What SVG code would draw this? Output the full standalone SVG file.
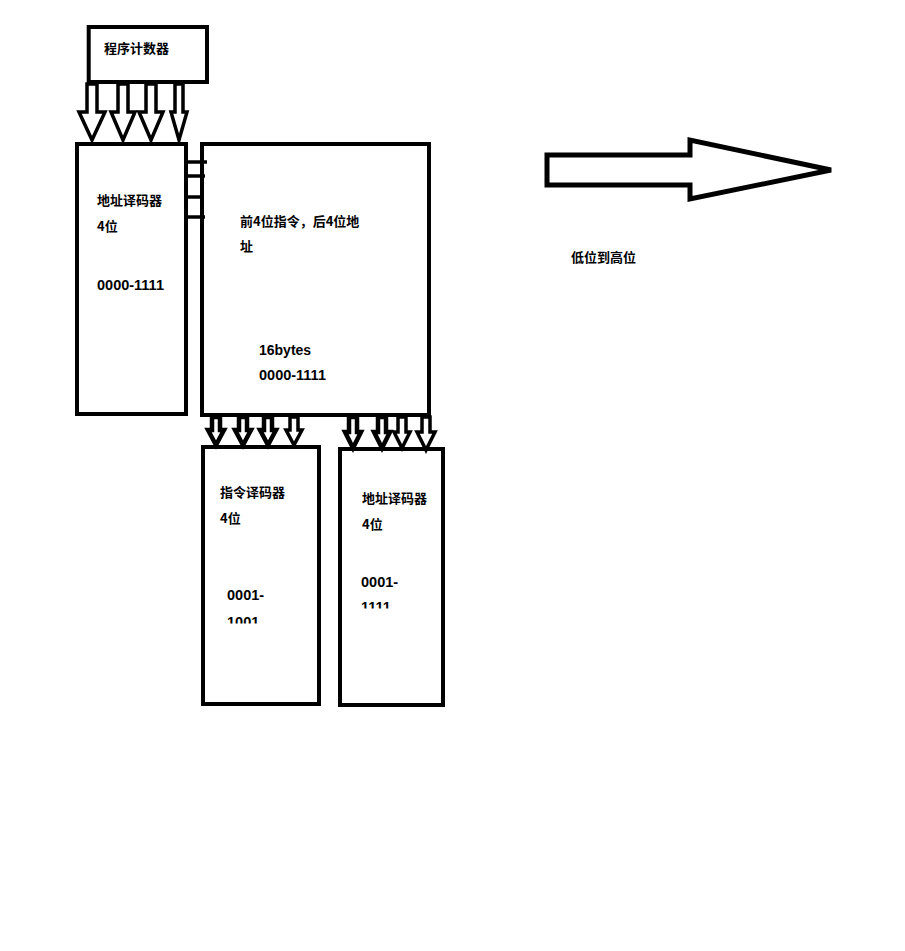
<svg xmlns="http://www.w3.org/2000/svg" width="905" height="951" viewBox="0 0 905 951">
<style>
.box{fill:#fff;stroke:#000;stroke-width:4}
.arr{fill:#fff;stroke:#000;stroke-width:3.5;stroke-linejoin:miter}
.sarr{fill:#fff;stroke:#000;stroke-width:4.5;stroke-linejoin:miter}
.tick{stroke:#000;stroke-width:3.5}
text{font-family:"Noto Sans CJK SC","Liberation Sans",sans-serif;font-weight:bold;font-size:13px;fill:#000}
.num{font-family:"Liberation Sans","Noto Sans CJK SC",sans-serif;font-size:14.5px}
.lat{font-family:"Liberation Sans","Noto Sans CJK SC",sans-serif;font-size:14px}
</style>
<defs>
<clipPath id="c1"><rect x="200" y="440" width="130" height="183.5"/></clipPath>
<clipPath id="c2"><rect x="335" y="440" width="120" height="168.5"/></clipPath>
</defs>
<rect width="905" height="951" fill="#fff"/>
<g id="pc">
<rect class="box" x="88.7" y="27" width="118.3" height="55"/>
<text x="104" y="53">程序计数器</text>
</g>
<g id="addr-decoder-1">
<rect class="box" x="77" y="144" width="109" height="270"/>
<text x="97" y="205">地址译码器</text>
<text x="97" y="231">4位</text>
<text class="num" x="97" y="290">0000-1111</text>
</g>
<g id="memory">
<rect class="box" x="202" y="144" width="227" height="271"/>
<text x="240" y="226">前4位指令，后4位地</text>
<text x="240" y="251">址</text>
<text class="lat" x="259" y="355">16bytes</text>
<text class="num" x="259" y="380">0000-1111</text>
</g>
<g id="instr-decoder">
<rect class="box" x="203" y="447" width="116" height="257"/>
<text x="220" y="497">指令译码器</text>
<text x="220" y="523">4位</text>
<g clip-path="url(#c1)">
<text class="num" x="227" y="600">0001-</text>
<text class="num" x="227" y="627">1001</text>
</g>
</g>
<g id="addr-decoder-2">
<rect class="box" x="340" y="449" width="103" height="256"/>
<text x="362" y="503">地址译码器</text>
<text x="362" y="529">4位</text>
<g clip-path="url(#c2)">
<text class="num" x="361" y="587">0001-</text>
<text class="num" x="361" y="612">1111</text>
</g>
</g>
<g id="direction">
<polygon points="547,155 690,155 690,140 831,170 690,199 690,185 547,185" fill="#fff" stroke="#000" stroke-width="5" stroke-linejoin="miter"/>
<text x="571" y="262">低位到高位</text>
</g>
<g id="connectors">
<polygon class="arr" points="87,84 87,112 79,112 92,140 105,112 97,112 97,84"/>
<polygon class="arr" points="118,84 118,112 111,112 123,140 135,112 128,112 128,84"/>
<polygon class="arr" points="146,84 146,112 139,112 151,140 163,112 156,112 156,84"/>
<polygon class="arr" points="175,84 175,112 171,112 179,140 187,112 183,112 183,84"/>
<line class="tick" x1="186" y1="162" x2="207" y2="162"/>
<line class="tick" x1="186" y1="176" x2="205" y2="176"/>
<line class="tick" x1="186" y1="197" x2="204" y2="197"/>
<line class="tick" x1="186" y1="217" x2="205" y2="217"/>
<polygon class="sarr" points="212,417 212,430 208,430 216,445 224,430 220,430 220,417"/>
<polygon class="sarr" points="239,417 239,430 235,430 243,445 251,430 247,430 247,417"/>
<polygon class="sarr" points="264,417 264,430 260,430 268,445 276,430 272,430 272,417"/>
<polygon class="arr" points="290,417 290,430 286,430 294,445 302,430 298,430 298,417"/>
<polygon class="sarr" points="349,417 349,432 345,432 353,448 361,432 357,432 357,417"/>
<polygon class="sarr" points="378,417 378,432 374,432 382,448 390,432 386,432 386,417"/>
<polygon class="arr" points="398,417 398,432 394,432 402,448 410,432 406,432 406,417"/>
<polygon class="arr" points="422,417 422,432 417,432 426,450 435,432 430,432 430,417"/>
</g>
</svg>
